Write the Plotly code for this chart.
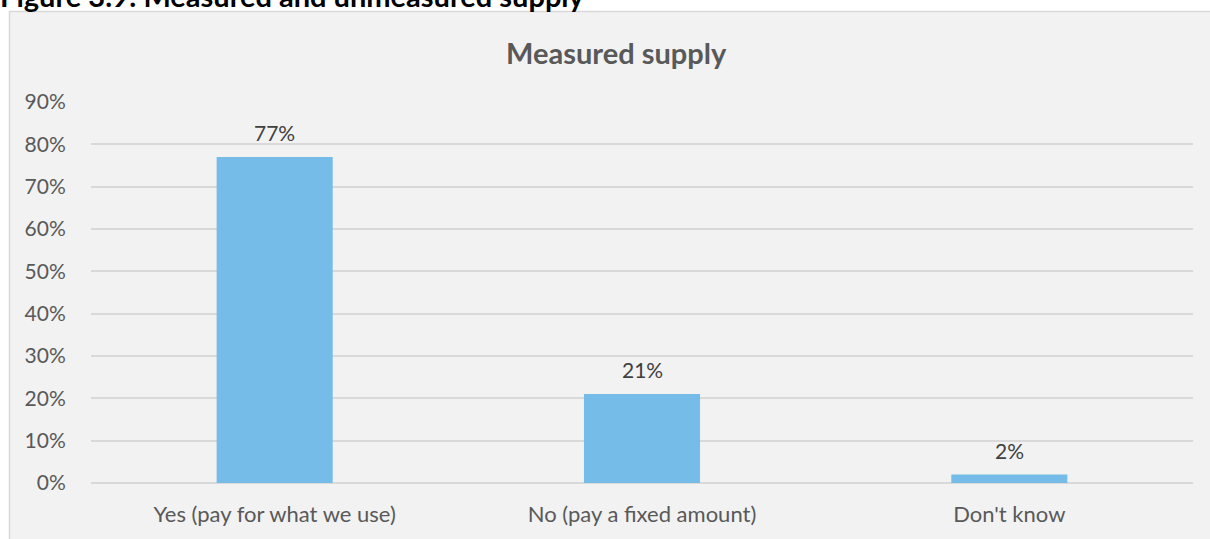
import plotly.graph_objects as go

categories = ["Yes (pay for what we use)", "No (pay a fixed amount)", "Don't know"]
values = [0.77, 0.21, 0.02]
labels = ["77%", "21%", "2%"]
tick_vals = [0, 0.1, 0.2, 0.3, 0.4, 0.5, 0.6, 0.7, 0.8, 0.9]
tick_text = ["0%", "10%", "20%", "30%", "40%", "50%", "60%", "70%", "80%", "90%"]

FONT = "Lato"
W, H = 1210, 539
ml, mr, mt, mb = 91, 17, 102, 56
pw, ph = W - ml - mr, H - mt - mb

def px_x(x):
    return (x - ml) / pw

def px_y(y):
    return (H - mb - y) / ph

fig = go.Figure()
fig.add_trace(go.Bar(
    x=categories, y=values,
    marker=dict(color="#75BDE8", line=dict(width=0)),
    hoverinfo="skip",
))

for c, v, t in zip(categories, values, labels):
    fig.add_annotation(x=c, y=v, text=t, showarrow=False, yanchor="bottom",
                       yshift=10, font=dict(family=FONT, size=21, color="#404040"))

fig.add_shape(type="rect", xref="paper", yref="paper",
              x0=px_x(9.5), x1=px_x(1212), y0=px_y(541), y1=px_y(11.5),
              fillcolor="#F2F2F2", line=dict(color="#D9D9D9", width=1.5), layer="below")

fig.add_annotation(xref="paper", yref="paper", x=px_x(616), y=px_y(52),
                   text="<b>Measured supply</b>", showarrow=False,
                   xanchor="center", yanchor="middle",
                   font=dict(family=FONT, size=29, color="#595959"))

fig.add_annotation(xref="paper", yref="paper", x=px_x(-2), y=px_y(15),
                   text="<b>Figure 3.9: Measured and unmeasured supply</b>", showarrow=False,
                   xanchor="left", yanchor="bottom",
                   font=dict(family=FONT, size=29, color="#000000"))

fig.update_layout(
    width=W, height=H,
    margin=dict(l=ml, r=mr, t=mt, b=mb),
    paper_bgcolor="#FFFFFF", plot_bgcolor="rgba(0,0,0,0)",
    bargap=0.684, showlegend=False,
    font=dict(family=FONT, size=21, color="#595959"),
)
fig.update_xaxes(showgrid=False, showline=False, ticks="outside", ticklen=12,
                 tickcolor="rgba(0,0,0,0)", tickfont=dict(size=22, color="#595959"))
fig.update_yaxes(range=[0, 0.9], tickvals=tick_vals, ticktext=tick_text,
                 showgrid=True, gridcolor="#D9D9D9", gridwidth=1.5, zeroline=True,
                 zerolinecolor="#D9D9D9", zerolinewidth=1.5, showline=False,
                 ticks="outside", ticklen=20, tickcolor="rgba(0,0,0,0)",
                 tickfont=dict(size=21, color="#595959"))

fig.write_html("out.html")
